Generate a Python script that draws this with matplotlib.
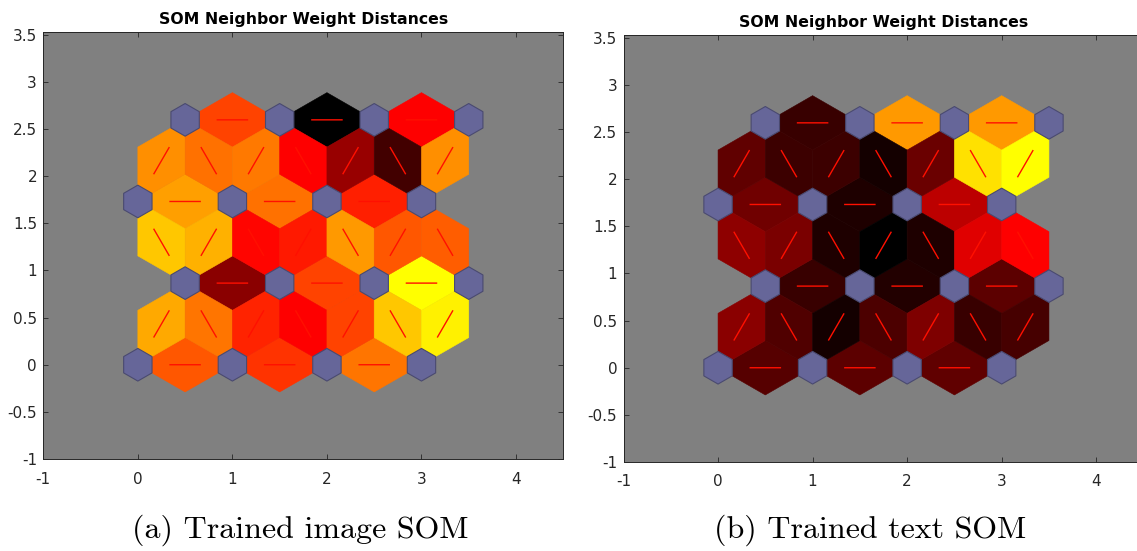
import numpy as np
import matplotlib
matplotlib.use("Agg")
import matplotlib.pyplot as plt
from matplotlib.collections import PolyCollection, LineCollection
from matplotlib.colors import LinearSegmentedColormap, Normalize
from matplotlib.ticker import FuncFormatter

plt.rcParams["axes.unicode_minus"] = False
plt.rcParams["font.family"] = ["DejaVu Sans"]

# ---------------- data ----------------
grid_rows = 4
grid_cols = 4

titles = ["SOM Neighbor Weight Distances", "SOM Neighbor Weight Distances"]
captions = ["(a) Trained image SOM", "(b) Trained text SOM"]

x_ticks = [-1, 0, 1, 2, 3, 4]
y_ticks = [-1, -0.5, 0, 0.5, 1, 1.5, 2, 2.5, 3, 3.5]

# normalized neighbor distances (0 = closest -> yellow, 0.5 -> red, 1 = farthest -> black)
# horizontal neighbours, one list per grid row (bottom to top), left to right
image_dist_horizontal = [
    [0.33, 0.40, 0.27],
    [0.73, 0.37, 0.00],
    [0.19, 0.28, 0.44],
    [0.37, 1.00, 0.50],
]
# diagonal neighbours between successive rows, left to right
image_dist_diagonal = [
    [0.17, 0.27, 0.43, 0.50, 0.37, 0.11, 0.03],
    [0.11, 0.155, 0.49, 0.45, 0.20, 0.33, 0.32],
    [0.22, 0.28, 0.265, 0.50, 0.70, 0.87, 0.22],
]

text_dist_horizontal = [
    [0.83, 0.82, 0.81],
    [0.89, 0.93, 0.82],
    [0.78, 0.94, 0.63],
    [0.89, 0.20, 0.20],
]
text_dist_diagonal = [
    [0.73, 0.84, 0.96, 0.85, 0.75, 0.89, 0.86],
    [0.72, 0.76, 0.94, 1.00, 0.94, 0.56, 0.50],
    [0.81, 0.88, 0.88, 0.96, 0.79, 0.06, 0.00],
]

# ---------------- geometry of hextop layout ----------------
Z = np.sqrt(0.75) / 3.0


def neuron_pos(r, c):
    return np.array([c + 0.5 * (r % 2), r * np.sqrt(0.75)])


def build_edges():
    horiz = []
    for r in range(grid_rows):
        horiz.append([(neuron_pos(r, c), neuron_pos(r, c + 1)) for c in range(grid_cols - 1)])
    diag = []
    for r in range(grid_rows - 1):
        band = []
        for c1 in range(grid_cols):
            for c2 in range(grid_cols):
                p, q = neuron_pos(r, c1), neuron_pos(r + 1, c2)
                if abs(np.hypot(*(q - p)) - 1.0) < 1e-6:
                    band.append((p, q))
        band.sort(key=lambda e: e[0][0] + e[1][0])
        diag.append(band)
    return horiz, diag


def rhombus(p, q):
    mid = (p + q) / 2.0
    d = q - p
    n = np.array([-d[1], d[0]]) / np.hypot(*d)
    return [p, mid + Z * n, q, mid - Z * n]


hex_x = np.array([-1, 0, 1, 1, 0, -1]) * 0.5 * 0.3
hex_y = np.array([1, 2, 1, -1, -2, -1]) * Z * 0.3

cmap = LinearSegmentedColormap.from_list(
    "som", [(0.0, "#ffff00"), (0.5, "#ff0000"), (1.0, "#000000")])

# ---------------- figure ----------------
W, H = 1137, 551
fig = plt.figure(figsize=(W / 100, H / 100), dpi=100)

axes_px = [(43.3, 459, 520, 427), (623.5, 462, 520, 427)]
caption_x = [300, 870]
dists = [(image_dist_horizontal, image_dist_diagonal),
         (text_dist_horizontal, text_dist_diagonal)]

horiz_edges, diag_edges = build_edges()

for i in range(2):
    x0, yb, w, h = axes_px[i]
    ax = fig.add_axes([x0 / W, (H - yb) / H, w / W, h / H])
    ax.set_facecolor("#808080")
    hd, dd = dists[i]

    polys, vals, segs = [], [], []
    for r, band in enumerate(horiz_edges):
        for k, (p, q) in enumerate(band):
            polys.append(rhombus(p, q))
            vals.append(hd[r][k])
            segs.append([(2 * p + q) / 3, (p + 2 * q) / 3])
    for r, band in enumerate(diag_edges):
        for k, (p, q) in enumerate(band):
            polys.append(rhombus(p, q))
            vals.append(dd[r][k])
            segs.append([(2 * p + q) / 3, (p + 2 * q) / 3])

    pc = PolyCollection(polys, array=np.array(vals), cmap=cmap,
                        norm=Normalize(0, 1), edgecolors="face", linewidths=0.4,
                        zorder=1)
    ax.add_collection(pc)
    lc = LineCollection(segs, colors="#ff1000", linewidths=1.0, zorder=2)
    lc.set_snap(False)
    ax.add_collection(lc)

    hexes = []
    for r in range(grid_rows):
        for c in range(grid_cols):
            p = neuron_pos(r, c)
            hexes.append(np.column_stack([hex_x + p[0], hex_y + p[1]]))
    ax.add_collection(PolyCollection(hexes, facecolors="#666699",
                                     edgecolors="#4a4a70", linewidths=0.8, zorder=3))

    ax.set_xlim(-1, 4.5)
    ax.set_ylim(-1, 3.53)
    ax.set_xticks(x_ticks)
    ax.set_yticks(y_ticks)
    ax.xaxis.set_major_formatter(FuncFormatter(lambda v, p: "%g" % v))
    ax.yaxis.set_major_formatter(FuncFormatter(lambda v, p: "%g" % v))
    ax.tick_params(direction="in", top=True, right=True, length=3.5, width=0.6,
                   labelsize=11, colors="#262626", labelcolor="#262626")
    ax.tick_params(axis="x", pad=9)
    ax.tick_params(axis="y", pad=4.5)
    for s in ax.spines.values():
        s.set_color("#262626")
        s.set_linewidth(0.7)
    ax.set_title(titles[i], fontsize=11.3, fontweight="bold", pad=6, color="black")

    fig.text(caption_x[i] / W, (H - 538) / H, captions[i], ha="center",
             va="baseline", fontsize=23, family="cmr10")

fig.savefig("out.png", dpi=100)
